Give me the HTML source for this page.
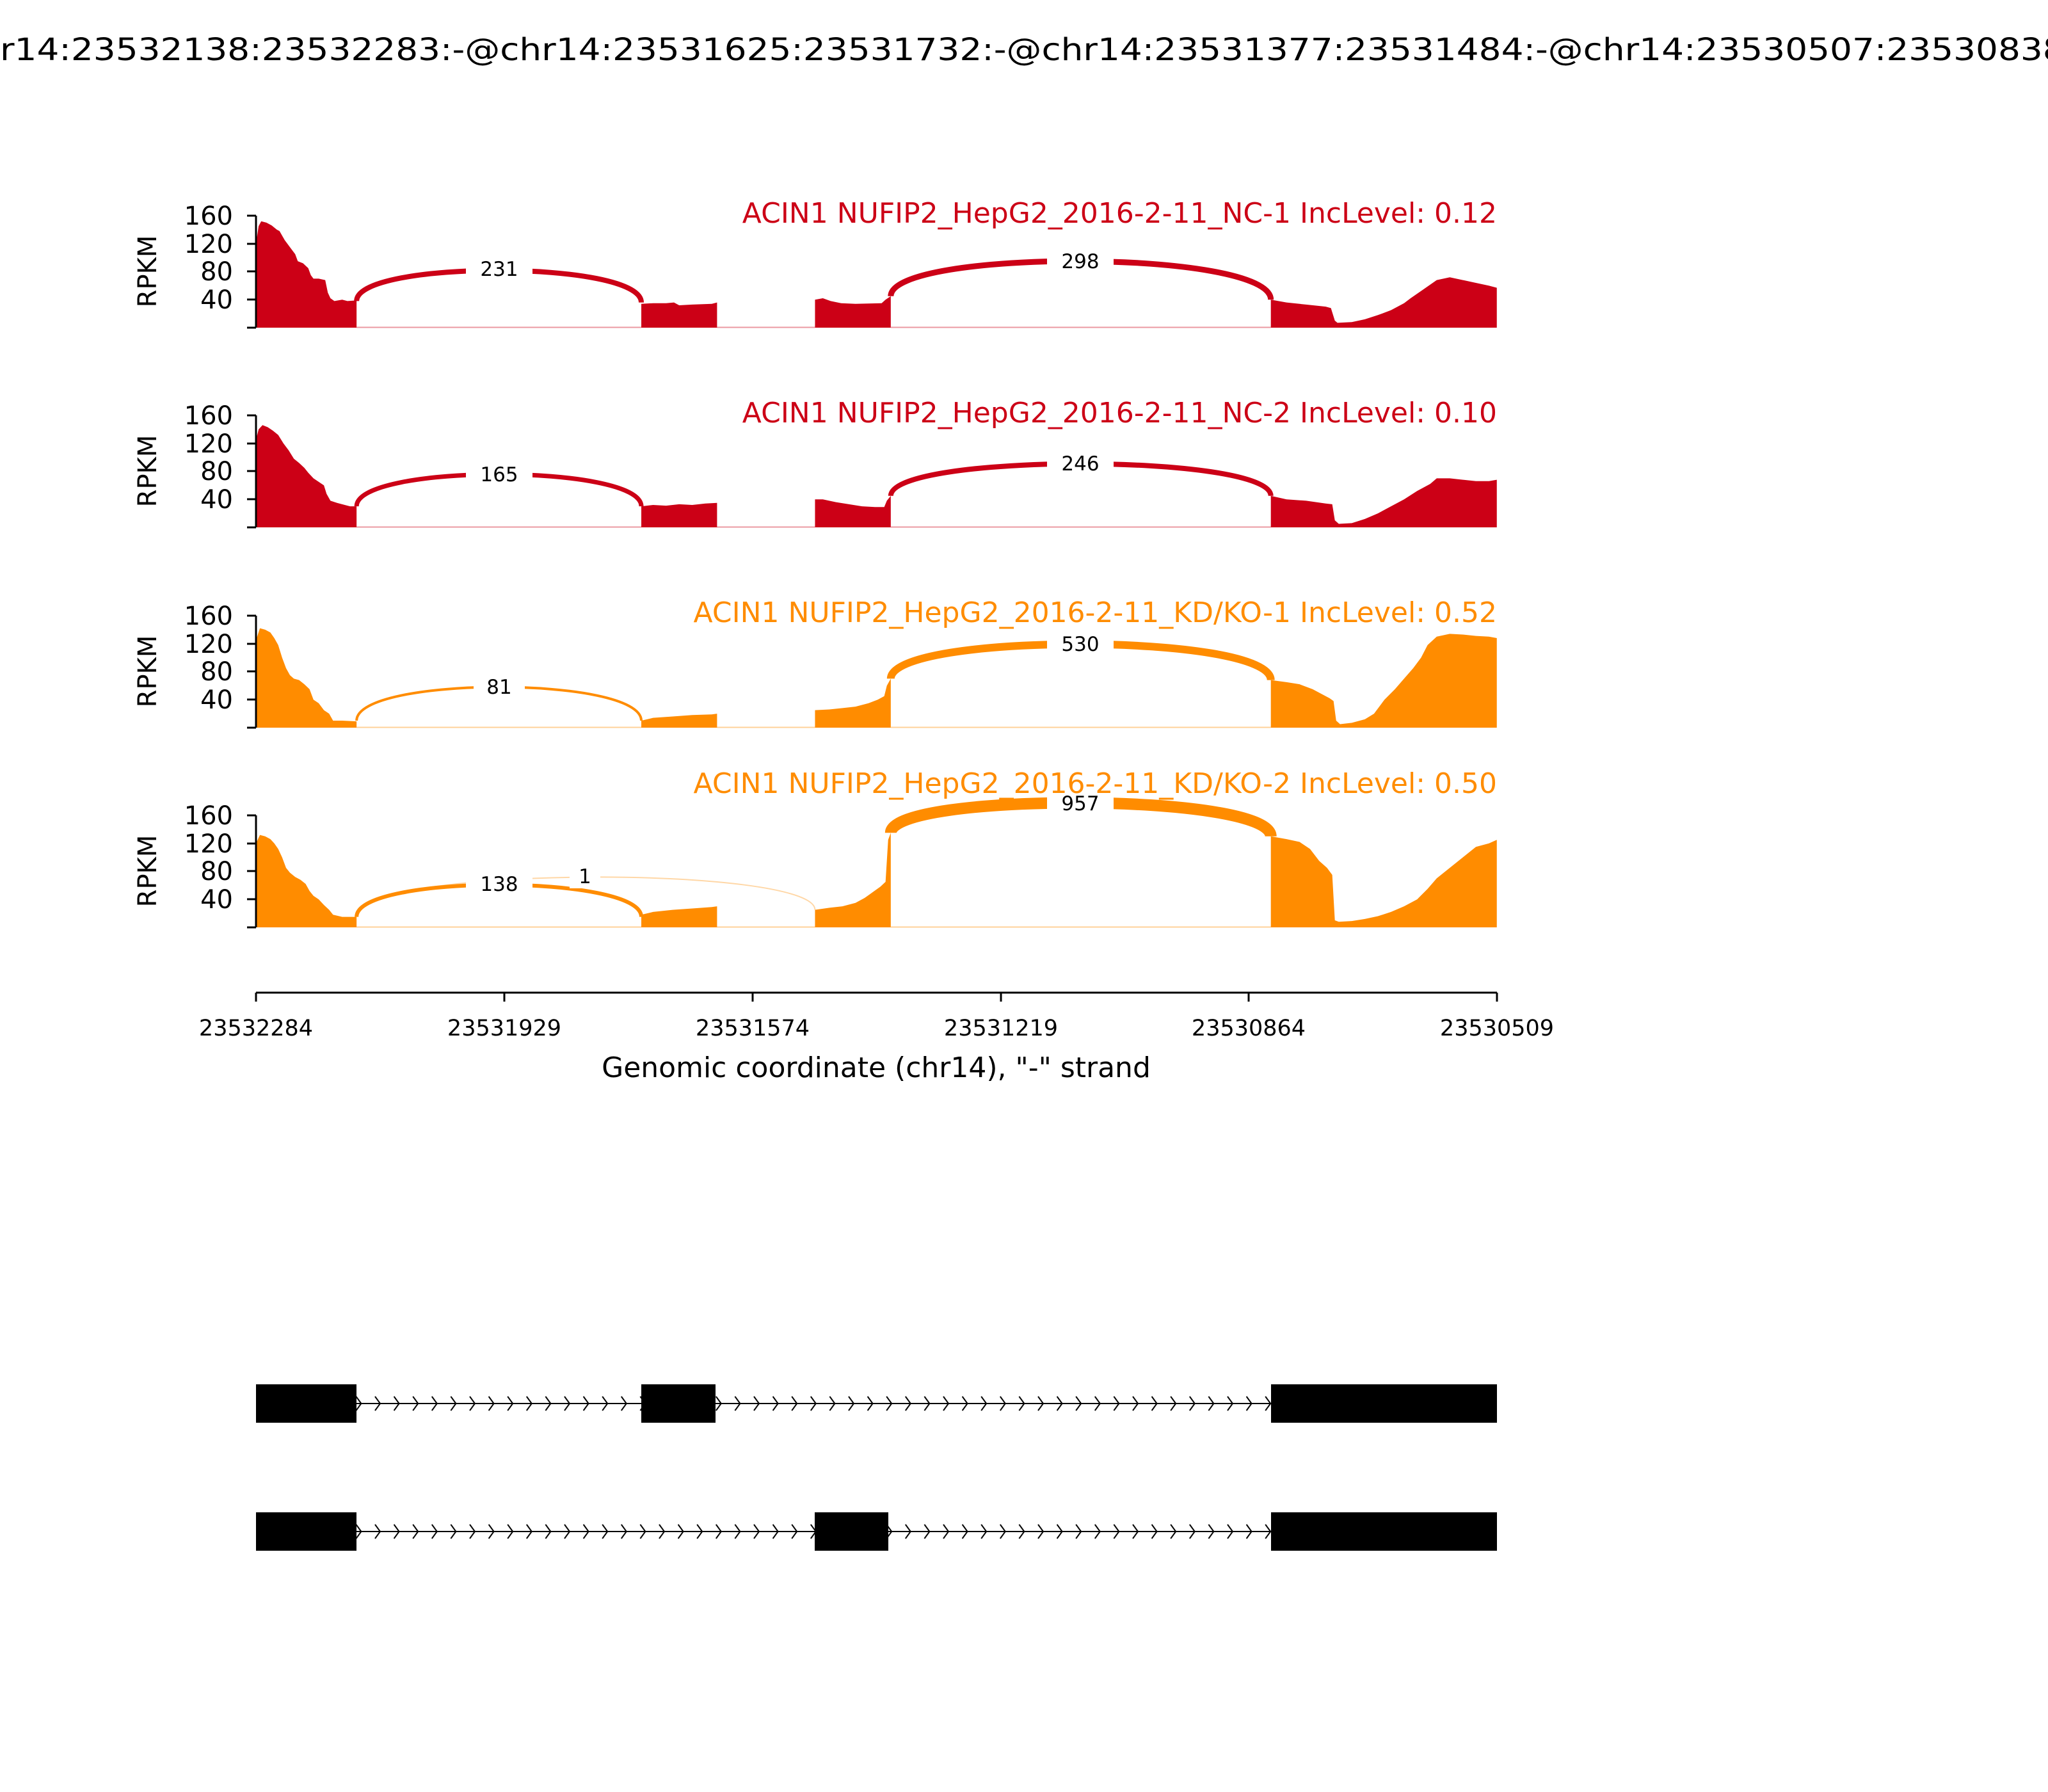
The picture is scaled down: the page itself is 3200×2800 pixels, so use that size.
<!DOCTYPE html>
<html><head><meta charset="utf-8"><style>
html,body{margin:0;padding:0;background:#fff;}
svg{display:block;font-family:"DejaVu Sans","Liberation Sans",sans-serif;}
</style></head><body>
<svg width="3200" height="2800" viewBox="0 0 3200 2800" xmlns="http://www.w3.org/2000/svg">
<defs>
<pattern id="chev1" x="578" y="2181" width="29.6" height="24" patternUnits="userSpaceOnUse"><path d="M8,1 L16,12 L8,23" fill="none" stroke="#000" stroke-width="2"/></pattern>
<pattern id="chev2" x="578" y="2381" width="29.6" height="24" patternUnits="userSpaceOnUse"><path d="M8,1 L16,12 L8,23" fill="none" stroke="#000" stroke-width="2"/></pattern>
</defs>
<rect width="3200" height="2800" fill="#fff"/>
<text x="1600" y="94" font-size="48" text-anchor="middle" textLength="3330" lengthAdjust="spacingAndGlyphs">chr14:23532138:23532283:-@chr14:23531625:23531732:-@chr14:23531377:23531484:-@chr14:23530507:23530838:-</text>

<!-- Panel 1 -->
<g transform="translate(0,512) scale(2.0408,-1.094)" fill="#cc0016">
<path d="M196,0 L196,120 L198,145 L200,152 L204,150 L208,146 L212,140 L214,138 L218,125 L222,115 L226,105 L228,95 L232,92 L236,85 L238,75 L240,70 L244,70 L249,68 L251,50 L253,42 L256,38 L262,40 L266,38 L273,39 L273,0 Z"/>
<path d="M491,0 L491,34 L500,35 L510,35 L516,36 L520,32 L530,33 L545,34 L549,36 L549,0 Z"/>
<path d="M624,0 L624,40 L630,42 L636,38 L644,35 L655,34 L675,35 L678,40 L682,45 L682,0 Z"/>
<path d="M973,0 L973,40 L985,36 L1000,33 L1015,30 L1019,28 L1022,10 L1024,7 L1035,8 L1045,12 L1055,18 L1065,25 L1075,35 L1080,42 L1090,55 L1100,68 L1110,72 L1120,68 L1130,64 L1140,60 L1146,57 L1146,0 Z"/>
<path d="M273,0.5 L491,0.5 M549,0.5 L624,0.5 M682,0.5 L973,0.5" stroke="#cc0016" stroke-opacity="0.4" stroke-width="2" vector-effect="non-scaling-stroke" fill="none"/>
<path d="M273,38 C273,96.7 491,96.7 491,36" fill="none" stroke="#cc0016" stroke-width="8" vector-effect="non-scaling-stroke"/>
<path d="M682,45 C682,112.5 973,112.5 973,40" fill="none" stroke="#cc0016" stroke-width="9" vector-effect="non-scaling-stroke"/>
</g>
<rect x="728" y="400" width="104" height="40" fill="#fff"/><text x="780" y="431" font-size="31" text-anchor="middle">231</text>
<rect x="1636" y="388" width="104" height="40" fill="#fff"/><text x="1688" y="419" font-size="31" text-anchor="middle">298</text>
<text x="2339" y="348" font-size="44" text-anchor="end" fill="#cc0016">ACIN1 NUFIP2_HepG2_2016-2-11_NC-1 IncLevel: 0.12</text>

<!-- Panel 2 -->
<g transform="translate(0,824) scale(2.0408,-1.094)" fill="#cc0016">
<path d="M196,0 L196,125 L198,140 L201,146 L205,143 L209,138 L213,132 L217,120 L221,110 L225,98 L229,92 L233,85 L236,78 L240,70 L244,65 L248,60 L250,48 L253,38 L258,35 L264,32 L268,30 L273,30 L273,0 Z"/>
<path d="M491,0 L491,30 L500,32 L510,31 L520,33 L530,32 L540,34 L549,35 L549,0 Z"/>
<path d="M624,0 L624,40 L630,40 L640,36 L650,33 L660,30 L670,29 L677,29 L679,38 L682,45 L682,0 Z"/>
<path d="M973,0 L973,45 L985,40 L1000,38 L1015,34 L1020,33 L1022,10 L1025,5 L1035,6 L1045,12 L1055,20 L1065,30 L1075,40 L1085,52 L1095,62 L1100,70 L1110,70 L1120,68 L1130,66 L1140,66 L1146,68 L1146,0 Z"/>
<path d="M273,0.5 L491,0.5 M549,0.5 L624,0.5 M682,0.5 L973,0.5" stroke="#cc0016" stroke-opacity="0.4" stroke-width="2" vector-effect="non-scaling-stroke" fill="none"/>
<path d="M273,30 C273,91 491,91 491,30" fill="none" stroke="#cc0016" stroke-width="7" vector-effect="non-scaling-stroke"/>
<path d="M682,45 C682,106 973,106 973,45" fill="none" stroke="#cc0016" stroke-width="8" vector-effect="non-scaling-stroke"/>
</g>
<rect x="728" y="721" width="104" height="40" fill="#fff"/><text x="780" y="752" font-size="31" text-anchor="middle">165</text>
<rect x="1636" y="704" width="104" height="40" fill="#fff"/><text x="1688" y="735" font-size="31" text-anchor="middle">246</text>
<text x="2339" y="660" font-size="44" text-anchor="end" fill="#cc0016">ACIN1 NUFIP2_HepG2_2016-2-11_NC-2 IncLevel: 0.10</text>

<!-- Panel 3 -->
<g transform="translate(0,1137) scale(2.0408,-1.094)" fill="#ff8c00">
<path d="M196,0 L196,125 L199,142 L203,140 L207,136 L210,128 L213,118 L216,100 L219,85 L222,75 L225,70 L229,68 L233,62 L237,55 L240,40 L244,35 L248,25 L252,20 L255,10 L262,10 L273,9 L273,0 Z"/>
<path d="M491,0 L491,10 L500,14 L515,16 L530,18 L545,19 L549,20 L549,0 Z"/>
<path d="M624,0 L624,25 L635,26 L645,28 L655,30 L665,35 L672,40 L677,45 L679,60 L682,70 L682,0 Z"/>
<path d="M973,0 L973,68 L985,65 L995,62 L1005,55 L1012,48 L1018,42 L1021,38 L1023,10 L1026,5 L1035,7 L1045,12 L1052,20 L1060,40 L1068,55 L1075,70 L1082,85 L1088,100 L1093,118 L1100,130 L1110,134 L1120,133 L1130,131 L1140,130 L1146,128 L1146,0 Z"/>
<path d="M273,0.5 L491,0.5 M549,0.5 L624,0.5 M682,0.5 L973,0.5" stroke="#ff8c00" stroke-opacity="0.4" stroke-width="2" vector-effect="non-scaling-stroke" fill="none"/>
<path d="M273,10 C273,74 491,74 491,10" fill="none" stroke="#ff8c00" stroke-width="4" vector-effect="non-scaling-stroke"/>
<path d="M682,70 C682,136 973,136 973,68" fill="none" stroke="#ff8c00" stroke-width="12" vector-effect="non-scaling-stroke"/>
</g>
<rect x="740" y="1053" width="80" height="40" fill="#fff"/><text x="780" y="1084" font-size="31" text-anchor="middle">81</text>
<rect x="1636" y="986" width="104" height="40" fill="#fff"/><text x="1688" y="1017" font-size="31" text-anchor="middle">530</text>
<text x="2339" y="972" font-size="44" text-anchor="end" fill="#ff8c00">ACIN1 NUFIP2_HepG2_2016-2-11_KD/KO-1 IncLevel: 0.52</text>

<!-- Panel 4 -->
<g transform="translate(0,1449) scale(2.0408,-1.094)" fill="#ff8c00">
<path d="M196,0 L196,120 L199,132 L203,130 L207,126 L210,120 L213,112 L216,100 L219,85 L222,78 L226,72 L230,68 L234,62 L237,52 L240,45 L244,40 L248,32 L252,25 L255,18 L262,15 L273,15 L273,0 Z"/>
<path d="M491,0 L491,18 L500,22 L515,25 L530,27 L545,29 L549,30 L549,0 Z"/>
<path d="M624,0 L624,25 L635,28 L645,30 L655,35 L662,42 L668,50 L674,58 L678,65 L680,125 L682,135 L682,0 Z"/>
<path d="M973,0 L973,130 L985,126 L995,122 L1003,112 L1010,95 L1016,85 L1020,75 L1022,10 L1025,8 L1035,9 L1045,12 L1055,16 L1065,22 L1075,30 L1085,40 L1093,55 L1100,70 L1110,85 L1120,100 L1130,115 L1140,120 L1146,125 L1146,0 Z"/>
<path d="M273,0.5 L491,0.5 M549,0.5 L624,0.5 M682,0.5 L973,0.5" stroke="#ff8c00" stroke-opacity="0.4" stroke-width="2" vector-effect="non-scaling-stroke" fill="none"/>
<path d="M273,15 C273,89 624,89 624,25" fill="none" stroke="#ff8c00" stroke-opacity="0.35" stroke-width="2" vector-effect="non-scaling-stroke"/>
<path d="M273,15 C273,76 491,76 491,15" fill="none" stroke="#ff8c00" stroke-width="6" vector-effect="non-scaling-stroke"/>
<path d="M682,135 C682,193 973,193 973,130" fill="none" stroke="#ff8c00" stroke-width="18" vector-effect="non-scaling-stroke"/>
</g>
<rect x="728" y="1361" width="104" height="40" fill="#fff"/><text x="780" y="1392" font-size="31" text-anchor="middle">138</text>
<rect x="890" y="1350" width="48" height="38" fill="#fff"/><text x="914" y="1380" font-size="31" text-anchor="middle">1</text>
<rect x="1636" y="1235" width="104" height="40" fill="#fff"/><text x="1688" y="1266" font-size="31" text-anchor="middle">957</text>
<text x="2339" y="1239" font-size="44" text-anchor="end" fill="#ff8c00">ACIN1 NUFIP2_HepG2_2016-2-11_KD/KO-2 IncLevel: 0.50</text>

<!-- Y axes -->
<g stroke="#000" stroke-width="3" fill="none">
<path d="M400,512 V337 M386,512 H400 M386,468 H400 M386,424 H400 M386,381 H400 M386,337 H400"/>
<path d="M400,824 V649 M386,824 H400 M386,780 H400 M386,736 H400 M386,693 H400 M386,649 H400"/>
<path d="M400,1137 V962 M386,1137 H400 M386,1093 H400 M386,1049 H400 M386,1006 H400 M386,962 H400"/>
<path d="M400,1449 V1274 M386,1449 H400 M386,1405 H400 M386,1361 H400 M386,1318 H400 M386,1274 H400"/>
</g>
<g font-size="40" text-anchor="end">
<text x="364" y="482">40</text><text x="364" y="438">80</text><text x="364" y="395">120</text><text x="364" y="351">160</text>
<text x="364" y="794">40</text><text x="364" y="750">80</text><text x="364" y="707">120</text><text x="364" y="663">160</text>
<text x="364" y="1107">40</text><text x="364" y="1063">80</text><text x="364" y="1020">120</text><text x="364" y="976">160</text>
<text x="364" y="1419">40</text><text x="364" y="1375">80</text><text x="364" y="1332">120</text><text x="364" y="1288">160</text>
</g>
<g font-size="40" text-anchor="middle">
<text transform="translate(244,424) rotate(-90)">RPKM</text>
<text transform="translate(244,736) rotate(-90)">RPKM</text>
<text transform="translate(244,1049) rotate(-90)">RPKM</text>
<text transform="translate(244,1361) rotate(-90)">RPKM</text>
</g>

<!-- X axis -->
<path d="M400,1551 H2339 M400,1551 V1565 M788,1551 V1565 M1176,1551 V1565 M1564,1551 V1565 M1951,1551 V1565 M2339,1551 V1565" stroke="#000" stroke-width="3" fill="none"/>
<g font-size="35" text-anchor="middle">
<text x="400" y="1618">23532284</text><text x="788" y="1618">23531929</text><text x="1176" y="1618">23531574</text>
<text x="1564" y="1618">23531219</text><text x="1951" y="1618">23530864</text><text x="2339" y="1618">23530509</text>
</g>
<text x="1369" y="1683" font-size="44" text-anchor="middle">Genomic coordinate (chr14), "-" strand</text>

<!-- Gene tracks -->
<g>
<rect x="557" y="2181" width="445" height="24" fill="url(#chev1)"/>
<rect x="1118" y="2181" width="868" height="24" fill="url(#chev1)"/>
<line x1="557" y1="2193" x2="1986" y2="2193" stroke="#000" stroke-width="2"/>
<rect x="400" y="2163" width="157" height="60" fill="#000"/>
<rect x="1002" y="2163" width="116" height="60" fill="#000"/>
<rect x="1986" y="2163" width="353" height="60" fill="#000"/>

<rect x="557" y="2381" width="716" height="24" fill="url(#chev2)"/>
<rect x="1388" y="2381" width="598" height="24" fill="url(#chev2)"/>
<line x1="557" y1="2393" x2="1986" y2="2393" stroke="#000" stroke-width="2"/>
<rect x="400" y="2363" width="157" height="60" fill="#000"/>
<rect x="1273" y="2363" width="115" height="60" fill="#000"/>
<rect x="1986" y="2363" width="353" height="60" fill="#000"/>
</g>
</svg>
</body></html>
